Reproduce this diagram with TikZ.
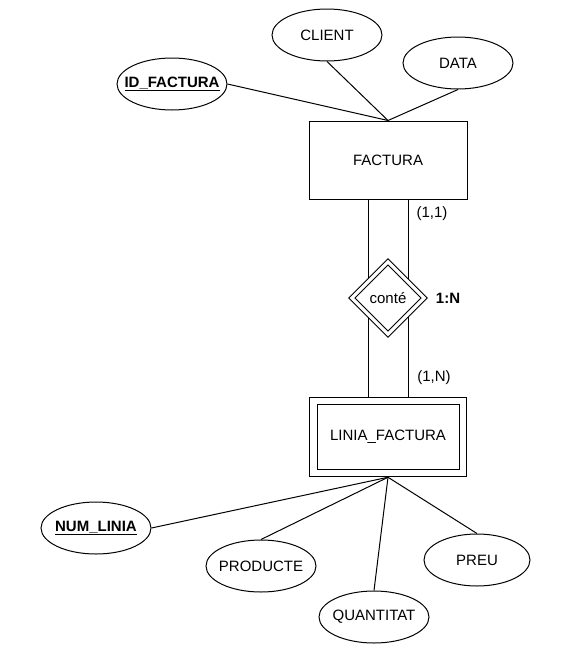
\documentclass[tikz,border=0pt]{standalone}
\usepackage{fontspec}
\setmainfont{Liberation Sans}
\usetikzlibrary{shapes.geometric, backgrounds}

\begin{document}
\begin{tikzpicture}[x=1pt, y=-1pt, line width=1pt,
  every node/.style={font=\fontsize{15}{18}\selectfont},
  entity/.style={draw, rectangle, minimum width=158pt, minimum height=78pt},
  weakentity/.style={draw, double, double distance=6.5pt, minimum width=149.5pt, minimum height=72pt, outer sep=4.25pt},
  attrib/.style={draw, ellipse, minimum width=110pt, minimum height=52pt, inner xsep=-15pt, inner ysep=0pt},
  relation/.style={draw, diamond, double, double distance=3.2pt, fill=white, minimum width=74pt, minimum height=74pt, inner sep=0pt, outer sep=2.1pt}]
				\useasboundingbox (0,0) rectangle (573,664);
				
				% Entities and relation
				\node[entity] (factura) at (388,160) {FACTURA};
				\node[weakentity] (linia) at (388,437) {LINIA\_FACTURA};
				\node[relation] (conte) at (388,298) {conté};
				
				% Attributes of FACTURA
				\node[attrib] (idfact) at (172,84) {\textbf{\underline{ID\_FACTURA}}};
				\node[attrib] (client) at (327,35) {CLIENT};
				\node[attrib] (data) at (458,63) {DATA};
				
				% Attributes of LINIA_FACTURA
				\node[attrib] (numlin) at (96,528) {\textbf{\underline{NUM\_LINIA}}};
				\node[attrib] (prod) at (261,566) {PRODUCTE};
				\node[attrib] (quant) at (374,617) {QUANTITAT};
				\node[attrib, minimum width=106pt] (preu) at (477,560) {PREU};
				
				% Cardinalities
				\node (card1) at (432,214) {(1,1)};
				\node[font=\fontsize{15}{18}\selectfont\bfseries] (ratio) at (448,298) {1:N};
				\node (card2) at (434,378) {(1,N)};
				
				% Links to attributes
				\foreach \a in {idfact.east, client.south, data.south}
					\draw (\a) -- (factura.north);
				\foreach \a in {numlin.east, prod.north, quant.north, preu.north}
					\draw (\a) -- (linia.south);
				
				% Double link through the relation
				\begin{scope}[on background layer]
					\foreach \s in {-20,20} {
						\draw ([xshift=\s pt]factura.south) -- ([xshift=\s pt]conte.center);
						\draw ([xshift=\s pt]conte.center) -- ([xshift=\s pt]linia.north);
					}
				\end{scope}
\end{tikzpicture}
\end{document}
